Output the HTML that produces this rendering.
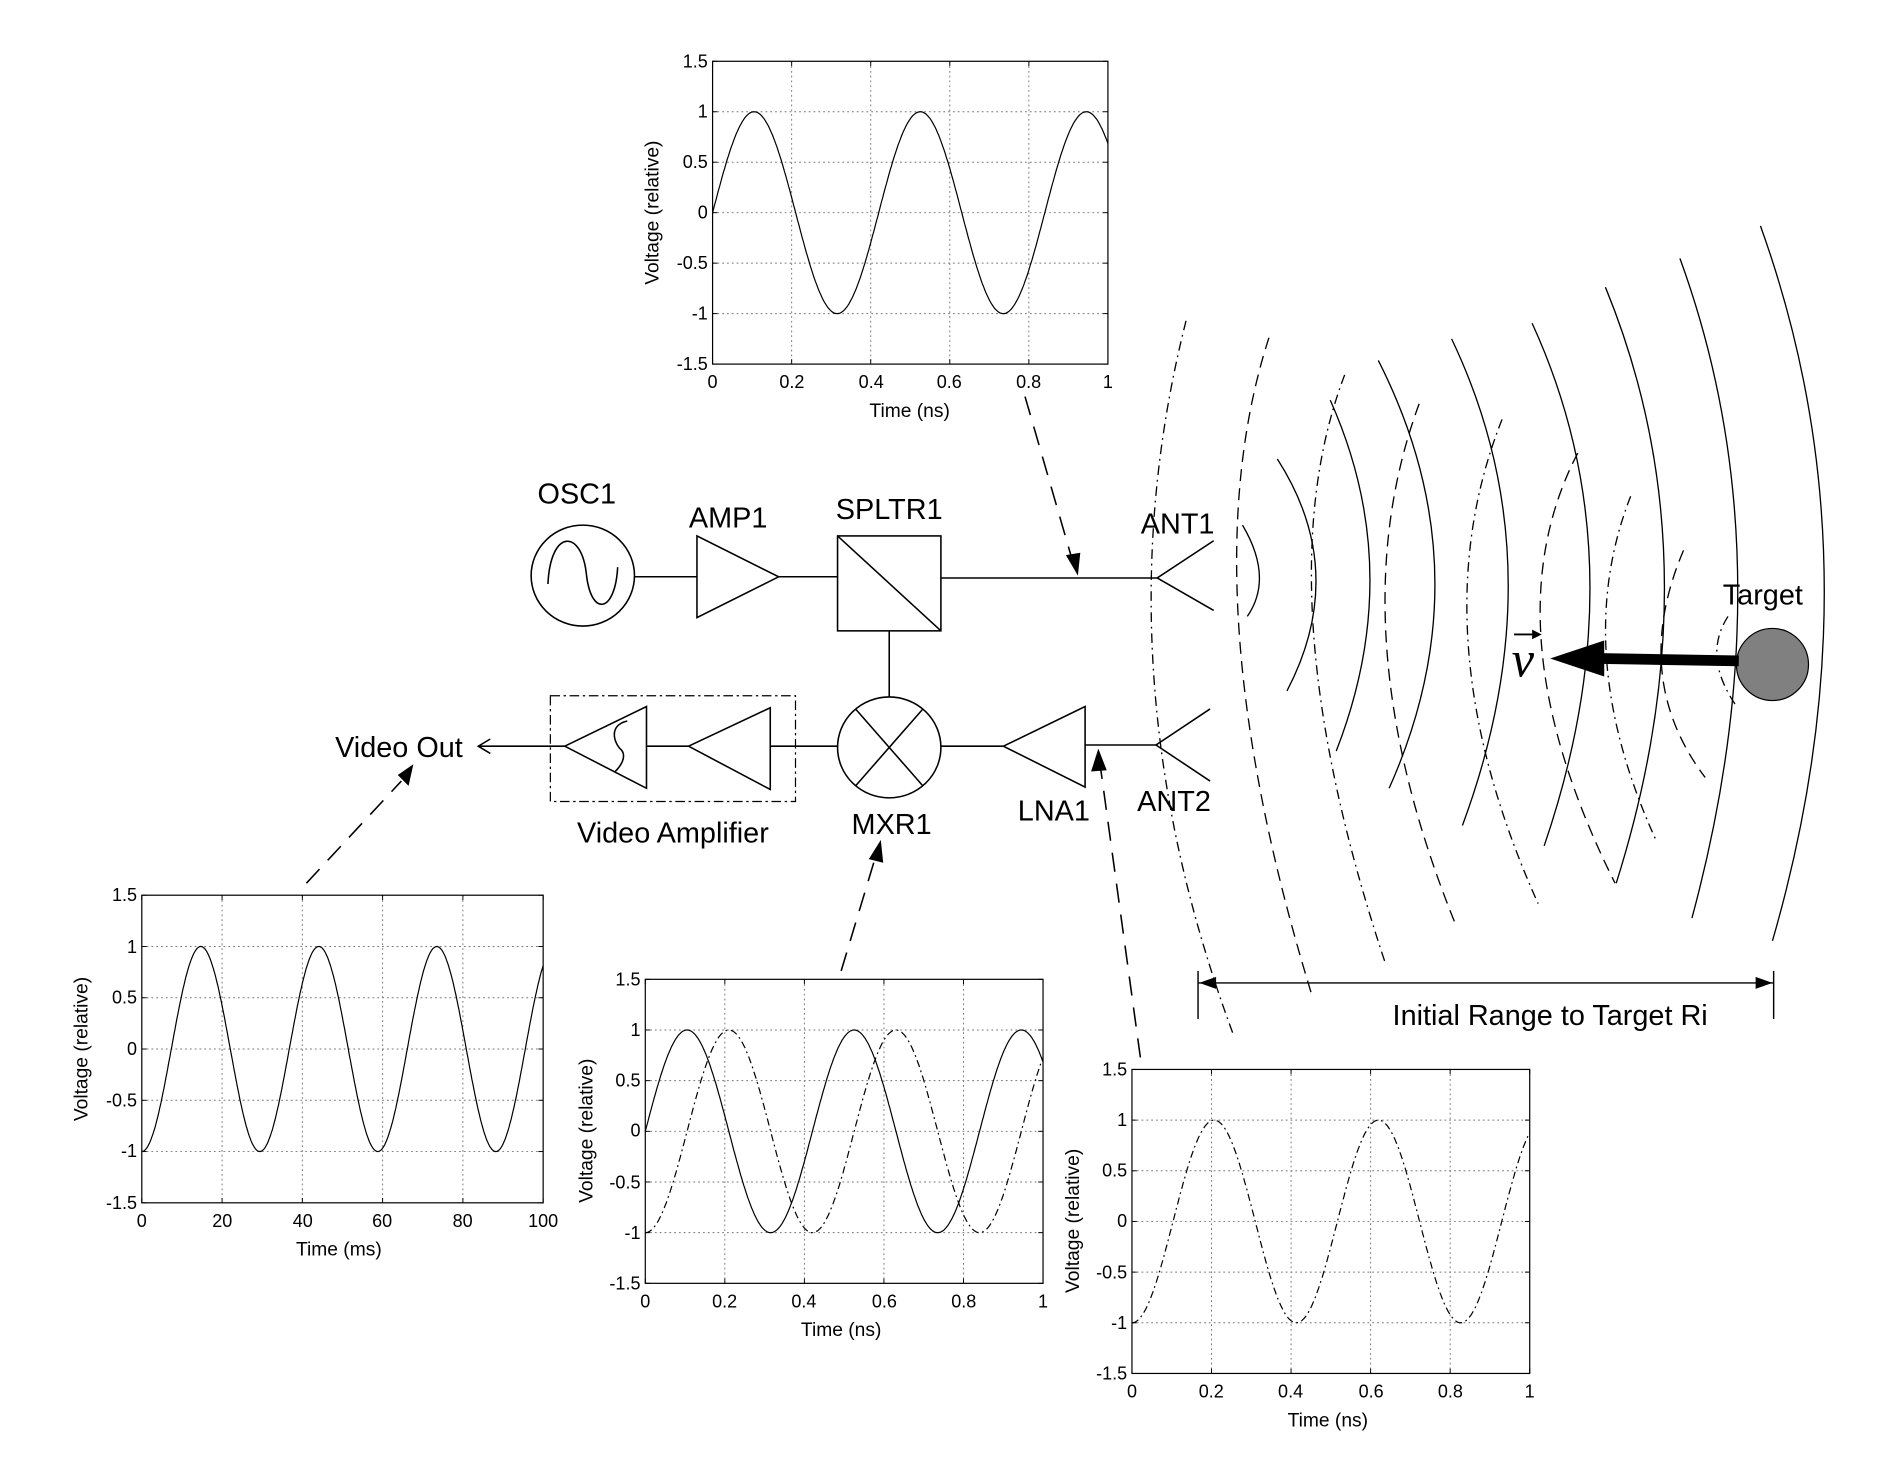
<!DOCTYPE html>
<html><head><meta charset="utf-8"><style>
html,body{margin:0;padding:0;background:#fff}
svg{display:block}
text{font-family:"Liberation Sans",Arial,sans-serif;fill:#000}
.tk{font-size:15px}
.ax{font-size:16px}
.lb{font-size:24px}
</style></head><body>
<svg id="s" width="1883" height="1484" viewBox="0 0 1567 1235" preserveAspectRatio="none" xmlns="http://www.w3.org/2000/svg">
<rect width="1567" height="1235" fill="#fff"/>
<g id="plots" fill="none" stroke="#000"></g>

<g class="tk" text-anchor="end">
<text x="589" y="56">1.5</text><text x="589" y="98">1</text><text x="589" y="140">0.5</text><text x="589" y="182">0</text><text x="589" y="224">-0.5</text><text x="589" y="266">-1</text><text x="589" y="308">-1.5</text>
</g>
<g class="tk" text-anchor="middle">
<text x="593" y="323">0</text><text x="659" y="323">0.2</text><text x="725" y="323">0.4</text><text x="790" y="323">0.6</text><text x="856" y="323">0.8</text><text x="922" y="323">1</text>
</g>
<text class="ax" x="757" y="347" text-anchor="middle">Time (ns)</text>
<text class="ax" transform="translate(548,177) rotate(-90)" text-anchor="middle">Voltage (relative)</text>

<g class="tk" text-anchor="end">
<text x="114" y="750">1.5</text><text x="114" y="793">1</text><text x="114" y="835">0.5</text><text x="114" y="878">0</text><text x="114" y="921">-0.5</text><text x="114" y="963">-1</text><text x="114" y="1006">-1.5</text>
</g>
<g class="tk" text-anchor="middle">
<text x="118" y="1021">0</text><text x="185" y="1021">20</text><text x="252" y="1021">40</text><text x="318" y="1021">60</text><text x="385" y="1021">80</text><text x="452" y="1021">100</text>
</g>
<text class="ax" x="282" y="1045" text-anchor="middle">Time (ms)</text>
<text class="ax" transform="translate(73,873) rotate(-90)" text-anchor="middle">Voltage (relative)</text>

<g class="tk" text-anchor="end">
<text x="533" y="820">1.5</text><text x="533" y="862">1</text><text x="533" y="904">0.5</text><text x="533" y="946">0</text><text x="533" y="989">-0.5</text><text x="533" y="1031">-1</text><text x="533" y="1073">-1.5</text>
</g>
<g class="tk" text-anchor="middle">
<text x="537" y="1088">0</text><text x="603" y="1088">0.2</text><text x="669" y="1088">0.4</text><text x="736" y="1088">0.6</text><text x="802" y="1088">0.8</text><text x="868" y="1088">1</text>
</g>
<text class="ax" x="700" y="1112" text-anchor="middle">Time (ns)</text>
<text class="ax" transform="translate(493,941) rotate(-90)" text-anchor="middle">Voltage (relative)</text>

<g class="tk" text-anchor="end">
<text x="938" y="895">1.5</text><text x="938" y="937">1</text><text x="938" y="979">0.5</text><text x="938" y="1021">0</text><text x="938" y="1064">-0.5</text><text x="938" y="1106">-1</text><text x="938" y="1148">-1.5</text>
</g>
<g class="tk" text-anchor="middle">
<text x="942" y="1163">0</text><text x="1008" y="1163">0.2</text><text x="1074" y="1163">0.4</text><text x="1141" y="1163">0.6</text><text x="1207" y="1163">0.8</text><text x="1273" y="1163">1</text>
</g>
<text class="ax" x="1105" y="1187" text-anchor="middle">Time (ns)</text>
<text class="ax" transform="translate(898,1016) rotate(-90)" text-anchor="middle">Voltage (relative)</text>

<g fill="none" stroke="#000" stroke-width="1.3">
<ellipse cx="485" cy="479" rx="43" ry="42"/>
<path d="M456 486 C458 440 484 440 488 478 C492 514 512 510 514 472"/>
<line x1="528" y1="480" x2="580" y2="480"/>
<polygon points="580,446 580,514 648,480"/>
<line x1="648" y1="480" x2="697" y2="480"/>
<rect x="697" y="446" width="86" height="79"/>
<line x1="697" y1="446" x2="783" y2="525"/>
<line x1="783" y1="481" x2="963" y2="481"/>
<polyline points="1010,450 963,481 1010,508"/>
<line x1="740" y1="525" x2="740" y2="580"/>
<ellipse cx="740" cy="622" rx="43" ry="42"/>
<line x1="712" y1="590" x2="768" y2="654"/>
<line x1="768" y1="590" x2="712" y2="654"/>
<line x1="783" y1="621" x2="835" y2="621"/>
<polygon points="835,621 903,588 903,655"/>
<line x1="903" y1="620" x2="962" y2="620"/>
<polyline points="1007,590 962,620 1007,650"/>
<rect x="458" y="579" width="204" height="88" stroke-dasharray="8,3,2,3" stroke-width="1"/>
<polygon points="470,621 538,588 538,656"/>
<path d="M522 600 C505 604 512 620 517 624 C522 630 516 638 512 642"/>
<line x1="538" y1="621" x2="573" y2="621"/>
<polygon points="573,621 641,589 641,657"/>
<line x1="641" y1="621" x2="697" y2="621"/>
<line x1="470" y1="621" x2="398" y2="621"/>
<polyline points="408,615 398,621 408,627"/>
<line x1="853" y1="330" x2="892" y2="465" stroke-dasharray="16,10"/>
<line x1="949" y1="880" x2="916" y2="640" stroke-dasharray="16,10"/>
<line x1="700" y1="808" x2="728" y2="715" stroke-dasharray="16,10"/>
<line x1="255" y1="735" x2="334" y2="650" stroke-dasharray="16,10"/>
</g>
<g fill="#000">
<polygon points="897,479 887,462 899,460"/>
<polygon points="914,623 908,642 921,641"/>
<polygon points="733,699 723,715 735,718"/>
<polygon points="344,636 331,645 340,654"/>
</g>
<g class="lb" text-anchor="middle">
<text x="480" y="419">OSC1</text>
<text x="606" y="439">AMP1</text>
<text x="740" y="432">SPLTR1</text>
<text x="980" y="444">ANT1</text>
<text x="977" y="675">ANT2</text>
<text x="877" y="683">LNA1</text>
<text x="742" y="694">MXR1</text>
<text x="560" y="701">Video Amplifier</text>
<text x="332" y="630">Video Out</text>
<text x="1467" y="503">Target</text>
<text x="1290" y="853">Initial Range to Target Ri</text>
</g>

<g id="waves" fill="none" stroke="#000" stroke-width="1.1"></g>

<circle cx="1475" cy="553" r="30" fill="#808080" stroke="#000" stroke-width="1"/>
<line x1="1447" y1="550" x2="1332" y2="548" stroke="#000" stroke-width="9"/>
<polygon points="1290,548 1335,533 1335,563" fill="#000"/>
<text x="1258" y="563" style="font-family:'Liberation Serif',serif;font-style:italic;font-size:42px">v</text>
<line x1="1260" y1="528" x2="1280" y2="528" stroke="#000" stroke-width="1.5"/>
<polygon points="1283,528 1275,524 1275,532" fill="#000"/>

<g stroke="#000" stroke-width="1.2" fill="#000">
<line x1="997" y1="818" x2="1476" y2="818"/>
<line x1="997" y1="808" x2="997" y2="848"/>
<line x1="1476" y1="808" x2="1476" y2="848"/>
<polygon points="998,818 1012,813 1012,823" stroke="none"/>
<polygon points="1475,818 1461,813 1461,823" stroke="none"/>
</g>

<script>
(function(){
var NS="http://www.w3.org/2000/svg";
var g=document.getElementById("plots");
function el(t,a,p){var e=document.createElementNS(NS,t);for(var k in a)e.setAttribute(k,a[k]);(p||g).appendChild(e);return e;}
function plot(x0,y0,x1,y1,xmax,curves){
  for(var i=1;i<5;i++){var x=x0+(x1-x0)*i/5;el("line",{x1:x,y1:y0,x2:x,y2:y1,stroke:"#777","stroke-width":0.8,"stroke-dasharray":"1.5,2.5"});}
  for(var j=1;j<6;j++){var y=y0+(y1-y0)*j/6;el("line",{x1:x0,y1:y,x2:x1,y2:y,stroke:"#777","stroke-width":0.8,"stroke-dasharray":"1.5,2.5"});}
  for(var i=0;i<=5;i++){var x=x0+(x1-x0)*i/5;el("line",{x1:x,y1:y1,x2:x,y2:y1-4,"stroke-width":0.8});el("line",{x1:x,y1:y0,x2:x,y2:y0+4,"stroke-width":0.8});}
  for(var j=0;j<=6;j++){var y=y0+(y1-y0)*j/6;el("line",{x1:x0,y1:y,x2:x0+4,y2:y,"stroke-width":0.8});el("line",{x1:x1,y1:y,x2:x1-4,y2:y,"stroke-width":0.8});}
  el("rect",{x:x0,y:y0,width:x1-x0,height:y1-y0,"stroke-width":1});
  curves.forEach(function(c){
    var pts=[];for(var k=0;k<=400;k++){var t=xmax*k/400;var v=c.f(t);pts.push((x0+(x1-x0)*k/400).toFixed(1)+","+(y0+(1.5-v)/3*(y1-y0)).toFixed(1));}
    var a={points:pts.join(" "),"stroke-width":1};if(c.d)a["stroke-dasharray"]=c.d;el("polyline",a);
  });
}
var P=Math.PI*2,f=2.38;
plot(593,51,922,303,1,[{f:function(t){return Math.sin(P*f*t)}}]);
plot(118,745,452,1001,100,[{f:function(t){return -Math.cos(P*t/29.4)}}]);
plot(537,815,868,1068,1,[{f:function(t){return Math.sin(P*f*t)}},{f:function(t){return -Math.cos(P*f*t)},d:"6,3,1.5,3"}]);
plot(942,890,1273,1143,1,[{f:function(t){return -Math.cos(P*2.42*t)},d:"6,3,1.5,3"}]);
var w=document.getElementById("waves");
function arc(a,b,c,d){var cx=2*b[0]-(a[0]+c[0])/2,cy=2*b[1]-(a[1]+c[1])/2;var at={d:"M"+a+" Q"+cx+","+cy+" "+c};if(d)at["stroke-dasharray"]=d;el("path",at,w);}
var S=[[[1034,437],[1048,478],[1038,513]],[[1063,382],[1095,477],[1071,575]],[[1107,333],[1140,477],[1112,625]],[[1147,300],[1194,477],[1156,656]],[[1208,282],[1255,477],[1217,687]],[[1275,269],[1323,477],[1285,704]],[[1336,239],[1385,477],[1345,735]],[[1398,215],[1446,477],[1408,764]],[[1465,188],[1518,477],[1475,783]]];
S.forEach(function(s){arc(s[0],s[1],s[2]);});
var DD="8,4,1.5,4",DA="10,6";
var R=[[[987,267],[960,560],[1026,860],DD],[[1056,281],[1031,523],[1092,829],DA],[[1119,312],[1093,525],[1153,802],DD],[[1181,336],[1154,539],[1212,771],DA],[[1250,349],[1222,539],[1280,752],DD],[[1313,377],[1283,539],[1344,735],DA],[[1357,413],[1337,549],[1378,699],DD],[[1401,458],[1383,558],[1419,647],DA],[[1438,513],[1429,549],[1446,589],DD]];
R.forEach(function(r){arc(r[0],r[1],r[2],r[3]);});
})();
</script>
</svg>
</body></html>
